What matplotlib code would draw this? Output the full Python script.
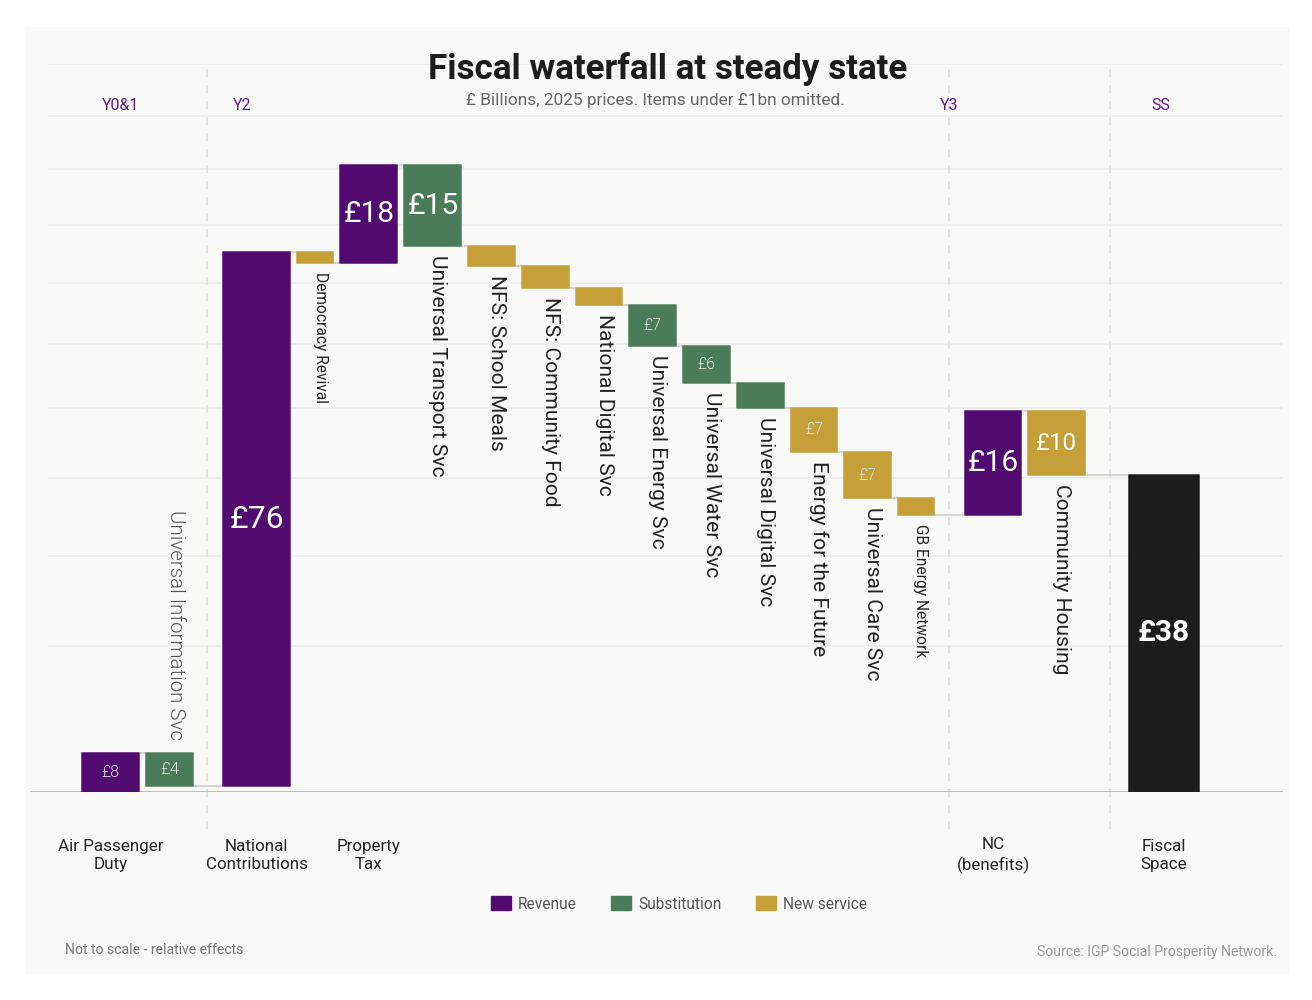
import numpy as np
import matplotlib.pyplot as plt
from matplotlib.patches import Patch, Rectangle

# ---- data ----
items = ["Air Passenger Duty", "Universal Information Svc", "National Contributions",
         "Democracy Revival", "Property Tax", "Universal Transport Svc", "NFS: School Meals",
         "NFS: Community Food", "National Digital Svc", "Universal Energy Svc",
         "Universal Water Svc", "Universal Digital Svc", "Energy for the Future",
         "Universal Care Svc", "GB Energy Network", "NC (benefits)", "Community Housing",
         "Fiscal Space"]
kinds = ["rev", "sub", "rev", "new", "rev", "sub", "new", "new", "new", "sub", "sub", "sub",
         "new", "new", "new", "rev", "new", "total"]
values = [8, 4, 76, None, 18, 15, None, None, None, 7, 6, None, 7, 7, None, 16, 10, 38]
# steps on the chart axis ("not to scale"), the last bar is the running total
steps = [1.5, -1.41, 65.11, -1.8, 17.3, -14.5, -3.3, -3.8, -2.9, -6.6, -5.8, -3.7,
         -6.4, -6.4, -2.2, 14.5, -9.2]
sections = [0, 0, 1, 1, 1, 1, 1, 1, 1, 1, 1, 1, 1, 1, 1, 2, 2, 3]
section_names = ["Y0&1", "Y2", "Y3", "SS"]
axis_labels = {0: "Air Passenger\nDuty", 2: "National\nContributions", 4: "Property\nTax",
               15: "NC\n(benefits)", 17: "Fiscal\nSpace"}
grid_values = np.arange(10, 101, 10)

# ---- style ----
colors = {"rev": "#500a70", "sub": "#4a7c59", "new": "#c5a038", "total": "#1c1c1c"}
widths = [57, 47, 67, 36, 57, 57, 46.7, 46.7, 46.7, 46.7, 46.7, 46.7, 46.7, 46.7, 36,
          56.5, 56.7, 69.6]
label_px = [16, 17, 32, None, 30, 30, None, None, None, 16, 16, None, 16, 16, None, 30, 24, 30]
name_px = {1: 20.5, 3: 15.5, 14: 15.5}
gap = 7
section_gap = [30, 31, 44]
sep_x = [207, 949, 1110]
section_x = [121, 242, 949, 1161]
PX = 0.72  # points per pixel at dpi 100

plt.rcParams['font.family'] = ['Roboto', 'DejaVu Sans']
cond = ['Liberation Sans Narrow', 'Roboto', 'DejaVu Sans']

# power scale used for the gridlines
P = 0.7
def fwd(v):
    v = np.asarray(v, dtype=float)
    return np.sign(v) * np.abs(v) ** P
def inv(d):
    d = np.asarray(d, dtype=float)
    return np.sign(d) * np.abs(d) ** (1 / P)

fig = plt.figure(figsize=(13.12, 10), dpi=100, facecolor='white')
fig.patches.append(Rectangle((25 / 1312, 27 / 1000), 1263 / 1312, 946 / 1000,
                             transform=fig.transFigure, color='#f9f9f7', zorder=-10))
ax = fig.add_axes([0, (1000 - 791.5) / 1000, 1, 727.5 / 1000])
ax.patch.set_visible(False)
for s in ax.spines.values():
    s.set_visible(False)
ax.set_yscale('function', functions=(fwd, inv))
ax.set_xlim(0, 1312)
ax.set_ylim(0, 100)
ax.set_xticks([])
ax.set_yticks([])

# layout of bars
lefts = []
x = 82.3
for i in range(len(items)):
    if i > 0:
        if sections[i] != sections[i - 1]:
            x += section_gap[sections[i] - 1]
        else:
            x += gap
    lefts.append(x)
    x += widths[i]
lefts = np.array(lefts)
widths = np.array(widths)
centers = lefts + widths / 2

# waterfall levels
ends = np.cumsum(steps)
starts = np.concatenate([[0], ends[:-1]])
starts = np.append(starts, 0)
ends = np.append(ends, ends[-1])

# gridlines, baseline, separators
ax.hlines(grid_values, 48, 1282, color='#ebebea', lw=1.5 * PX, zorder=0)
ax.hlines(0, 30, 1283, color='#bdbdbb', lw=2 * PX, zorder=1)
for sx in sep_x:
    ax.axvline(sx, ymin=-0.051, ymax=1, color='#e2e2e0', lw=2 * PX, ls=(0, (4, 4)),
               clip_on=False, zorder=0)

# bars
lo = np.minimum(starts, ends)
hi = np.maximum(starts, ends)
bar_colors = [colors[k] for k in kinds]
ax.bar(lefts, hi - lo, bottom=lo, width=widths, align='edge', color=bar_colors,
       edgecolor=bar_colors, lw=1.5 * PX, joinstyle='round', zorder=3)

# connectors
for i in range(len(items) - 1):
    ax.plot([lefts[i] + widths[i], lefts[i + 1]], [ends[i], ends[i]], color='#c8c8c6',
            lw=1.5 * PX, zorder=2, solid_capstyle='butt')

# value labels
for i, v in enumerate(values):
    if v is None:
        continue
    yc = inv((fwd(lo[i]) + fwd(hi[i])) / 2)
    small = label_px[i] < 20
    ax.text(centers[i], yc, f"£{v}", ha='center', va='center',
            fontsize=label_px[i] * PX, color='#e0e0e0' if small else 'white',
            fontweight='bold' if kinds[i] == 'total' else (300 if small else 'normal'),
            zorder=4)

# rotated item names
for i, name in enumerate(items):
    if kinds[i] in ('rev', 'total'):
        continue
    size = name_px.get(i, 21) * PX
    if i == 1:
        ax.annotate(name, (centers[i], hi[i]), xytext=(6 * PX, 13 * PX),
                    textcoords='offset points', rotation=-90, ha='center', va='bottom',
                    fontsize=size, color='#555555', fontweight=300)
    else:
        ax.annotate(name, (centers[i], lo[i]), xytext=(5 * PX, -9 * PX),
                    textcoords='offset points', rotation=-90, ha='center', va='top',
                    fontsize=size, color='#222222')

# axis category labels
tr = ax.get_xaxis_transform()
for i, lab in axis_labels.items():
    ax.text(centers[i], -(855.5 - 791.5) / 727.5, lab, transform=tr, ha='center',
            va='center', fontsize=17 * PX, color='#222222', family=cond, linespacing=1.3)

# section labels
for sx, name in zip(section_x, section_names):
    fig.text(sx / 1312, 1 - 105.5 / 1000, name, ha='center', va='center',
             fontsize=16 * PX, color='#5b1e85')

fig.text(668 / 1312, 1 - 69 / 1000, "Fiscal waterfall at steady state", ha='center',
         va='center', fontsize=35 * PX, fontweight='bold', color='#1c1c1c')
fig.text(655 / 1312, 1 - 100 / 1000, "£ Billions, 2025 prices. Items under £1bn omitted.",
         ha='center', va='center', fontsize=17.3 * PX, color='#666666')
fig.text(65 / 1312, 1 - 950 / 1000, "Not to scale - relative effects", ha='left',
         va='center', fontsize=14 * PX, color='#777777', family=cond)
fig.text(1277 / 1312, 1 - 952 / 1000, "Source: IGP Social Prosperity Network.", ha='right',
         va='center', fontsize=14 * PX, color='#9a9a9a', family=cond)

handles = [Patch(facecolor=colors[k], edgecolor=colors[k], label=l)
           for k, l in [("rev", "Revenue"), ("sub", "Substitution"), ("new", "New service")]]
fig.legend(handles=handles, loc='center', bbox_to_anchor=(679 / 1312, 1 - 904 / 1000),
           ncol=3, frameon=False, handlelength=1.3, handleheight=0.95, handletextpad=0.45,
           columnspacing=2.2, prop={'family': cond, 'size': 15.5 * PX}, labelcolor='#555555')

fig.savefig('out.png', dpi=100, facecolor='white')
